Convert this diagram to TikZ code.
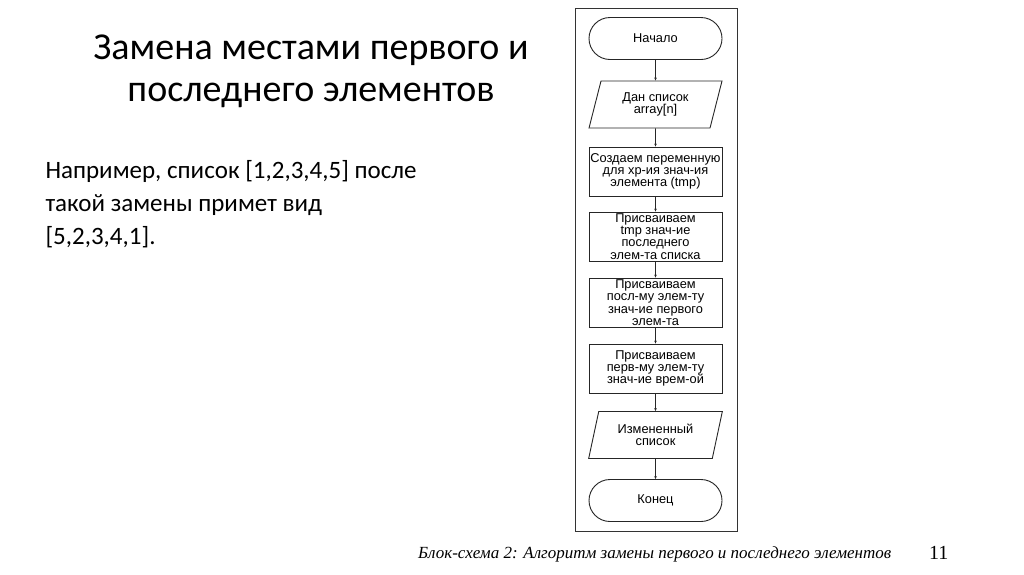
\documentclass[tikz,border=0pt]{standalone}
\usepackage{fontspec}
\setmainfont{Carlito}
\newfontfamily\arialf{Liberation Sans}
\newfontfamily\timesf{Liberation Serif}
\usetikzlibrary{shapes.misc,shapes.geometric,arrows.meta}
\begin{document}
\begin{tikzpicture}[x=1pt,y=-1pt,
  fc/.style={font=\arialf\fontsize{12.8}{12.3}\selectfont, align=center, inner sep=0pt, line width=0.9pt, draw=black!85},
  proc/.style={fc, draw, rectangle, minimum width=133pt, minimum height=49pt},
  term/.style={fc, draw, rounded rectangle, minimum width=133pt, minimum height=42pt},
  io/.style={fc, draw, trapezium, trapezium left angle=73, trapezium right angle=107, trapezium stretches=true, minimum width=134pt, minimum height=47pt},
  arr/.style={line width=0.7pt, draw=black!85, -{Stealth[length=3pt,width=2.6pt]}},
  title/.style={font=\fontsize{38}{44}\selectfont, anchor=base, align=center},
  body/.style={font=\fontsize{25}{33}\selectfont, anchor=base west},
]
\useasboundingbox[fill=white] (0,0) rectangle (1024,574);

% title and text
\node[title] (t1) at (311,59) {Замена местами первого и};
\node[title] (t2) at (311,101) {последнего элементов};
\node[body] (b1) at (42,178) {Например, список [1,2,3,4,5] после};
\node[body] (b2) at (42,211) {такой замены примет вид};
\node[body] (b3) at (42,244) {[5,2,3,4,1].};

% frame
\node[draw=black!80, line width=0.8pt, minimum width=162pt, minimum height=523pt, inner sep=0pt] (frame) at (656,269.5) {};

% flowchart
\node[term] (start) at (655.5,38.5) {Начало};
\node[io]   (in)    at (655.5,104.5) {Дан список\\array[n]};
\node[proc] (p1)    at (655.5,171.5) {Создаем переменную\\для хр-ия знач-ия\\элемента (tmp)};
\node[proc] (p2)    at (655.5,236.5) {Присваиваем\\tmp знач-ие\\последнего\\элем-та списка};
\node[proc] (p3)    at (655.5,302.5) {Присваиваем\\посл-му элем-ту\\знач-ие первого\\элем-та};
\node[proc] (p4)    at (655.5,368.5) {Присваиваем\\перв-му элем-ту\\знач-ие врем-ой};
\node[io]   (out)   at (655.5,435)   {Измененный\\список};
\node[term] (stop)  at (655.5,500.5) {Конец};

\draw[arr] (start) -- (in);
\draw[arr] (in) -- (p1);
\draw[arr] (p1) -- (p2);
\draw[arr] (p2) -- (p3);
\draw[arr] (p3) -- (p4);
\draw[arr] (p4) -- (out);
\draw[arr] (out) -- (stop);

% caption
\node[font=\timesf\itshape\fontsize{17}{20}\selectfont, anchor=base west, inner sep=0pt] (cap) at (418,558) {Блок-схема 2: Алгоритм замены первого и последнего элементов};
\node[font=\timesf\fontsize{20}{24}\selectfont, anchor=base west, inner sep=0pt] (num) at (929,559) {11};
\end{tikzpicture}
\end{document}
